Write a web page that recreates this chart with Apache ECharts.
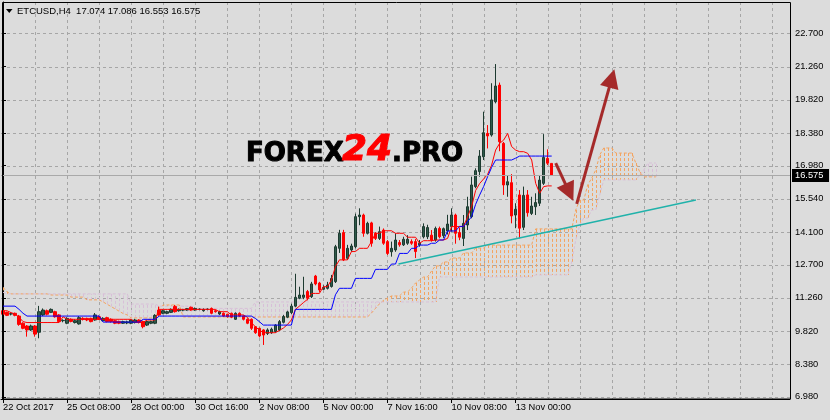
<!DOCTYPE html>
<html><head><meta charset="utf-8">
<script src="https://cdn.jsdelivr.net/npm/echarts@6/dist/echarts.min.js"></script>
<style>html,body{margin:0;padding:0;background:#dcdcdc;}#c{width:830px;height:420px;}</style>
</head><body><div id="c"></div>
<script>
const titleText = 'ETCUSD,H4  17.074 17.086 16.553 16.575';
const opens = [10.70,10.63,10.56,10.59,10.47,10.16,10.04,9.87,10.04,9.77,
 10.52,10.70,10.63,10.66,10.52,10.27,10.16,10.33,10.19,10.13,
 10.37,10.37,10.37,10.30,10.44,10.27,10.40,10.33,10.27,10.24,
 10.16,10.17,10.16,10.19,10.30,10.23,10.08,10.16,10.16,10.73,
 10.59,10.59,10.63,10.88,10.70,10.73,10.73,10.85,10.73,10.76,
 10.70,10.76,10.80,10.70,10.56,10.59,10.55,10.59,10.33,10.59,
 10.47,10.33,10.33,10.01,9.94,9.87,9.72,9.75,9.80,9.87,
 10.20,10.42,10.62,10.90,11.24,11.28,11.53,11.31,12.20,11.90,
 11.63,11.67,11.75,11.96,13.40,14.08,12.97,13.33,13.47,14.77,
 14.84,14.05,14.50,14.05,13.83,14.19,13.69,13.25,13.33,13.65,
 13.55,13.62,13.69,13.69,13.55,13.90,13.90,13.97,13.76,14.26,
 13.95,14.15,14.34,14.84,14.08,13.83,14.41,14.77,16.07,16.72,
 17.36,18.37,18.30,19.74,20.46,17.94,16.14,16.24,14.84,15.71,
 14.31,15.71,14.91,15.20,15.35,16.21,17.29,17.074];
const highs = [10.73,10.66,10.63,10.62,10.52,10.20,10.08,10.10,10.08,10.91,
 10.80,10.75,10.80,10.70,10.55,10.33,10.42,10.37,10.33,10.47,
 10.42,10.40,10.40,10.60,10.50,10.42,10.44,10.37,10.30,10.27,
 10.27,10.27,10.33,10.35,10.33,10.27,10.27,10.27,10.55,10.88,
 10.75,10.70,10.80,10.95,10.80,10.78,10.82,10.88,10.84,10.80,
 10.80,10.80,10.84,10.73,10.70,10.63,10.57,10.62,10.63,10.63,
 10.50,10.37,10.37,10.04,9.97,9.90,9.94,9.97,10.12,10.30,
 10.52,10.70,11.00,12.30,11.74,12.17,11.60,11.95,12.25,11.95,
 11.80,11.95,12.25,13.55,14.20,14.20,13.55,13.60,14.90,15.13,
 14.90,14.55,14.55,14.10,14.34,14.26,13.76,13.69,14.05,13.76,
 13.90,13.97,13.79,13.80,13.76,14.48,14.42,14.19,14.34,14.34,
 14.30,14.85,15.13,14.90,14.30,14.84,15.63,16.50,16.86,17.65,
 19.31,18.73,20.54,21.37,20.57,18.00,16.57,16.61,15.35,15.92,
 16.07,15.92,15.63,15.78,16.57,18.34,17.68,17.086];
const lows = [10.50,10.47,10.50,10.46,10.05,9.90,9.58,9.83,9.58,9.51,
 10.47,10.50,10.60,10.40,10.20,10.20,10.12,10.20,10.15,10.10,
 10.28,10.25,10.20,10.27,10.30,10.24,10.20,10.19,10.12,10.12,
 10.13,10.12,10.12,10.15,10.15,9.94,10.04,10.12,10.12,10.48,
 10.55,10.55,10.60,10.62,10.66,10.68,10.70,10.70,10.70,10.72,
 10.66,10.72,10.55,10.62,10.52,10.44,10.40,10.38,10.30,10.44,
 10.28,10.12,9.87,9.70,9.55,9.22,9.65,9.70,9.75,9.83,
 10.15,10.38,10.55,10.85,11.20,11.20,11.15,11.25,11.80,11.50,
 11.60,11.62,11.70,11.90,13.20,12.85,12.90,13.25,13.40,14.40,
 13.90,14.00,13.47,13.76,13.76,13.55,13.11,13.04,13.25,13.47,
 13.50,13.55,13.55,12.98,13.47,13.83,13.80,13.69,13.69,13.83,
 13.85,14.00,14.12,13.60,13.75,13.50,14.19,14.70,16.00,16.50,
 17.22,17.72,18.23,19.67,17.60,15.71,15.63,14.48,14.27,13.83,
 14.19,14.77,14.84,14.84,15.23,16.14,17.00,16.553];
const closes = [10.55,10.50,10.57,10.50,10.11,9.94,9.87,10.04,9.69,10.66,
 10.73,10.55,10.76,10.44,10.23,10.28,10.37,10.24,10.27,10.40,
 10.33,10.30,10.23,10.52,10.33,10.37,10.23,10.23,10.16,10.16,
 10.23,10.22,10.30,10.30,10.19,10.01,10.23,10.23,10.50,10.52,
 10.70,10.66,10.76,10.66,10.76,10.74,10.79,10.73,10.80,10.77,
 10.76,10.77,10.59,10.66,10.66,10.47,10.44,10.42,10.59,10.47,
 10.33,10.16,9.94,9.75,9.61,9.65,9.87,9.90,10.08,10.23,
 10.45,10.65,10.90,11.28,11.38,11.38,11.24,11.86,11.86,11.60,
 11.71,11.81,12.10,13.47,14.05,12.90,13.40,13.50,14.77,14.84,
 14.05,14.48,13.62,13.83,14.12,13.62,13.18,13.40,13.76,13.55,
 13.79,13.79,13.62,13.26,13.62,14.34,14.30,13.76,14.26,13.90,
 14.25,14.45,14.84,14.05,13.88,14.48,15.20,16.14,16.76,17.39,
 18.40,18.26,19.82,20.42,18.01,16.14,16.28,14.80,15.09,14.27,
 15.69,14.94,15.23,15.38,16.35,17.33,17.08,16.575];
const tenkan = [10.70,10.70,10.62,10.56,10.42,10.23,10.19,10.19,10.19,10.19,
 10.19,10.19,10.19,10.19,10.19,10.44,10.33,10.33,10.33,10.33,
 10.33,10.33,10.33,10.33,10.33,10.33,10.33,10.33,10.33,10.33,
 10.33,10.33,10.33,10.20,10.20,10.20,10.30,10.30,10.30,10.76,
 10.76,10.76,10.76,10.76,10.76,10.76,10.76,10.76,10.76,10.76,
 10.76,10.76,10.76,10.76,10.66,10.66,10.66,10.52,10.52,10.52,
 10.52,10.42,10.19,10.01,9.87,9.75,9.75,9.75,9.75,9.85,
 9.95,10.10,10.30,10.76,10.90,11.05,11.19,11.45,11.45,11.45,
 11.74,11.74,12.03,12.61,12.90,12.90,12.90,13.26,13.26,13.40,
 13.40,13.40,13.69,14.05,14.05,14.16,14.16,14.16,14.05,14.05,
 14.05,13.88,13.88,13.88,13.62,13.73,13.73,13.73,13.76,13.76,
 13.76,13.83,14.34,14.34,14.34,14.34,14.77,15.20,15.90,16.20,
 16.40,16.60,17.00,17.65,17.94,18.08,18.37,17.80,17.65,17.58,
 17.58,17.51,17.22,16.21,15.78,16.07,16.10,16.10];
const kijun = [10.90,10.90,10.90,10.90,10.76,10.59,10.47,10.47,10.47,10.47,
 10.47,10.47,10.47,10.47,10.47,10.47,10.47,10.47,10.47,10.47,
 10.47,10.47,10.47,10.47,10.47,10.21,10.21,10.21,10.21,10.21,
 10.21,10.21,10.21,10.21,10.21,10.33,10.33,10.33,10.33,10.47,
 10.47,10.47,10.47,10.47,10.47,10.47,10.47,10.47,10.47,10.47,
 10.47,10.47,10.47,10.47,10.47,10.47,10.47,10.47,10.47,10.47,
 10.47,10.47,10.47,10.37,10.23,10.08,10.08,10.08,10.08,10.08,
 10.08,10.08,10.08,10.76,10.76,10.76,10.76,10.76,10.76,10.76,
 10.76,10.76,10.76,11.39,11.67,11.67,11.67,11.67,12.10,12.10,
 12.10,12.10,12.10,12.49,12.49,12.49,12.49,12.72,12.72,13.18,
 13.18,13.18,13.40,13.40,13.54,13.54,13.54,13.62,13.62,13.76,
 13.76,14.15,14.15,14.15,14.35,14.35,14.55,14.77,15.30,15.70,
 16.07,16.50,16.90,17.22,17.22,17.22,17.22,17.22,17.30,17.39,
 17.39,17.39,17.39,17.39,17.39,17.39,17.39,17.39];
const senkouA = [11.71,11.52,11.43,11.43,11.43,11.43,11.43,11.43,11.43,11.43,
 11.43,11.43,11.38,11.38,11.38,11.38,11.38,11.29,11.29,11.29,
 11.29,11.17,11.17,11.17,11.17,11.08,10.98,10.88,10.78,10.68,
 10.58,10.52,10.39,10.39,10.39,10.39,10.39,10.39,10.39,10.82,
 10.95,10.95,10.95,10.95,10.95,10.43,10.43,10.43,10.43,10.43,
 10.43,10.43,10.43,10.43,10.43,10.43,10.43,10.43,10.43,10.43,
 10.43,10.43,10.43,10.43,10.43,10.43,10.43,10.43,10.43,10.43,
 10.43,10.43,10.43,10.43,10.43,10.43,10.43,10.43,10.43,10.43,
 10.43,10.43,10.43,10.43,10.43,10.43,10.43,10.43,10.43,10.43,
 10.43,10.43,10.60,10.80,11.00,11.15,11.25,11.34,11.34,11.34,
 11.51,11.51,11.68,11.90,12.03,12.16,12.16,12.42,12.64,12.64,
 12.81,12.81,12.98,12.98,12.98,13.20,13.20,13.20,13.41,13.41,
 13.41,13.54,13.54,13.54,13.54,13.54,13.54,13.54,13.54,13.54,
 13.54,13.54,13.54,14.24,14.24,14.24,14.24,14.24,14.24,14.24,
 14.24,14.24,14.24,15.06,15.49,15.49,16.14,16.44,16.79,17.44,
 17.74,17.74,17.74,17.52,17.52,17.52,17.52,17.52,17.09,16.70,
 16.49,16.49,16.49,16.49];
const senkouB = [11.50,11.43,11.43,11.43,11.43,11.43,11.43,11.43,11.43,11.43,
 11.43,11.43,11.43,11.43,11.43,11.43,11.43,11.43,11.43,11.43,
 11.43,11.43,11.43,11.43,11.43,11.43,11.43,11.43,11.43,11.43,
 11.43,11.43,10.99,10.99,10.99,10.99,10.99,10.99,10.99,10.90,
 10.90,10.90,10.90,10.90,10.90,10.90,10.90,10.90,10.80,10.80,
 10.80,10.80,10.80,10.80,10.80,10.80,10.80,10.80,10.80,10.80,
 10.80,10.80,10.80,11.08,11.08,11.08,11.08,11.08,11.08,11.08,
 11.08,11.08,11.08,11.08,11.08,11.08,11.08,11.08,11.08,11.08,
 11.08,11.08,11.08,11.08,11.08,11.08,11.08,11.08,11.08,11.08,
 11.08,11.08,11.08,11.08,11.08,11.08,11.08,11.08,11.08,11.08,
 11.08,11.08,11.08,11.08,11.08,11.08,11.08,11.08,11.08,12.16,
 12.16,12.16,12.16,12.16,12.16,12.16,12.16,12.16,12.16,12.16,
 12.16,12.16,12.16,12.16,12.16,12.16,12.16,12.16,12.16,12.16,
 12.16,12.16,12.16,12.25,12.25,12.25,12.25,12.25,12.25,12.25,
 12.25,12.25,12.81,13.76,14.41,14.71,14.71,15.06,15.06,15.71,
 16.36,16.36,16.36,16.36,16.36,16.36,16.36,16.36,16.36,16.57,
 16.79,17.09,17.09,17.09];
const xTickLabels = ['22 Oct 2017','25 Oct 08:00','28 Oct 00:00','30 Oct 16:00','2 Nov 08:00','5 Nov 00:00','7 Nov 16:00','10 Nov 08:00','13 Nov 00:00'];
const barsPerLabel = 16;
const barsPerGridLine = 8;
const slotCount = 197;
const yTicks = [6.98, 8.38, 9.82, 11.26, 12.70, 14.10, 15.54, 16.98, 18.38, 19.82, 21.26, 22.70];
const trendLine = [[98.75, 12.72], [173, 15.49]];
const arrowDown = [[138, 17.09], [141.4, 15.82]];
const arrowUp = [[143.25, 15.32], [152.0, 20.75]];

const cats = [];
for (let i = 0; i < slotCount; i++) cats.push(String(i));
const ohlc = opens.map((o, i) => [o, closes[i], lows[i], highs[i]]);
const lastClose = closes[closes.length - 1];
const gridCols = [];
for (let i = barsPerGridLine; i < slotCount; i += barsPerGridLine) gridCols.push([i, 0]);
const showLabel = (idx) => idx % barsPerLabel === 0 && idx / barsPerLabel < xTickLabels.length;
const FONT = 'Liberation Sans';
const GRID_COLOR = '#a6a6a6';

const chart = echarts.init(document.getElementById('c'), null, {renderer: 'canvas'});
const option = {
  backgroundColor: '#dcdcdc',
  animation: false,
  grid: {left: 1, right: 40, top: 2, bottom: 21, show: false},
  xAxis: [{
    type: 'category', data: cats, boundaryGap: true,
    axisLine: {show: true, lineStyle: {color: '#000', width: 1}},
    axisTick: {show: true, alignWithLabel: true, length: 4, interval: showLabel, lineStyle: {color: '#000'}},
    axisLabel: {show: true, interval: showLabel, align: 'left', margin: 4, color: '#000', fontFamily: FONT, fontSize: 9.3,
      formatter: (v, idx) => xTickLabels[idx / barsPerLabel]},
    splitLine: {show: false}
  }, {
    type: 'value', min: -0.5, max: slotCount - 0.5, show: false
  }],
  yAxis: [{
    type: 'value', position: 'right', min: 6.883, max: 24.054, scale: true,
    axisLine: {show: true, lineStyle: {color: '#000', width: 1}},
    axisTick: {show: true, length: 3, customValues: yTicks, lineStyle: {color: '#000'}},
    axisLabel: {show: true, customValues: yTicks, margin: 5, color: '#000', fontFamily: FONT, fontSize: 9.3,
      formatter: v => v.toFixed(3)},
    splitLine: {show: false}
  }],
  series: [
    {type: 'custom', name: 'hgrid', xAxisIndex: 1, yAxisIndex: 0, z: 0, silent: true,
      data: yTicks.map(v => [0, v]), encode: {x: 0, y: 1},
      renderItem: (params, api) => {
        const cs = params.coordSys;
        const y = Math.round(api.coord([0, api.value(1)])[1]) + 0.5;
        return {type: 'line', shape: {x1: cs.x, y1: y, x2: cs.x + cs.width, y2: y},
          style: {stroke: GRID_COLOR, lineWidth: 1, lineDash: [3, 3]}};
      }},
    {type: 'custom', name: 'vgrid', xAxisIndex: 1, yAxisIndex: 0, z: 0, silent: true,
      data: gridCols, encode: {x: 0, y: 1},
      renderItem: (params, api) => {
        const cs = params.coordSys;
        const x = Math.round(api.coord([api.value(0), 10])[0]) + 0.5;
        return {type: 'line', shape: {x1: x, y1: cs.y, x2: x, y2: cs.y + cs.height},
          style: {stroke: GRID_COLOR, lineWidth: 1, lineDash: [3, 3]}};
      }},
    {type: 'custom', name: 'cloud', xAxisIndex: 1, yAxisIndex: 0, z: 1, silent: true,
      data: senkouA.map((a, i) => [i, a, senkouB[i]]), encode: {x: 0, y: [1, 2]},
      renderItem: (params, api) => {
        const i = api.value(0), a = api.value(1), b = api.value(2);
        const p1 = api.coord([i, a]), p2 = api.coord([i, b]);
        const x = Math.round(p1[0]) + 0.5;
        return {type: 'line', shape: {x1: x, y1: p1[1], x2: x, y2: p2[1]},
          style: {stroke: a >= b ? '#f4a460' : '#d8bfd8', lineWidth: 1, lineDash: [3, 2]}};
      }},
    {type: 'line', name: 'SenkouA', data: senkouA, showSymbol: false, z: 2, silent: true,
      lineStyle: {color: '#f4a460', width: 1, type: [3, 2]}},
    {type: 'line', name: 'SenkouB', data: senkouB, showSymbol: false, z: 2, silent: true,
      lineStyle: {color: '#d8bfd8', width: 1, type: [3, 2]}},
    {type: 'candlestick', name: 'ETCUSD', data: ohlc, barWidth: 3, z: 3,
      itemStyle: {color: '#2f5a4a', color0: '#ff0000', borderColor: '#1d3a30', borderColor0: '#ff0000', borderWidth: 1},
      markLine: {silent: true, symbol: ['none', 'none'], label: {show: false},
        lineStyle: {color: '#a9a9a9', type: 'solid', width: 1},
        data: [{yAxis: lastClose}]}},
    {type: 'line', name: 'Tenkan', data: tenkan, showSymbol: false, z: 4, silent: true,
      lineStyle: {color: '#ff0000', width: 1}},
    {type: 'line', name: 'Kijun', data: kijun, showSymbol: false, z: 4, silent: true,
      lineStyle: {color: '#0000ff', width: 1}},
    {type: 'line', name: 'trend', xAxisIndex: 1, data: trendLine, showSymbol: false, z: 5, silent: true,
      lineStyle: {color: '#20b2aa', width: 1.5}},
    {type: 'lines', name: 'arrows', coordinateSystem: 'cartesian2d', xAxisIndex: 1, yAxisIndex: 0, z: 6, silent: true,
      symbol: ['none', 'triangle'], symbolSize: 19,
      lineStyle: {color: '#a52a2a', width: 3, opacity: 1, curveness: 0},
      data: [{coords: arrowDown}, {coords: arrowUp}]}
  ]
};
chart.setOption(option);

const py = chart.convertToPixel({yAxisIndex: 0}, lastClose);
chart.setOption({graphic: [
  {type: 'rect', silent: true, z: 10, shape: {x: 2.5, y: 2.5, width: 788, height: 396.5},
    style: {fill: 'none', stroke: '#000', lineWidth: 1}},
  {type: 'polygon', silent: true, z: 10, shape: {points: [[6, 9], [12.5, 9], [9.25, 13]]}, style: {fill: '#000'}},
  {type: 'text', silent: true, z: 10, x: 17, y: 11, style: {text: titleText, fill: '#000', font: '9.5px "Liberation Sans"', verticalAlign: 'middle'}},
  {type: 'text', silent: true, z: 10, x: 246, y: 154, style: {text: 'FOREX', fill: '#000', font: 'bold 26px "DejaVu Sans"', verticalAlign: 'middle', stroke: '#000', lineWidth: 1}},
  {type: 'text', silent: true, z: 10, x: 342, y: 150.5, style: {text: '24', fill: '#ff0000', font: 'italic bold 36px "DejaVu Sans"', verticalAlign: 'middle', stroke: '#ff0000', lineWidth: 1}},
  {type: 'text', silent: true, z: 10, x: 392, y: 154, style: {text: '.PRO', fill: '#000', font: 'bold 26px "DejaVu Sans"', verticalAlign: 'middle', stroke: '#000', lineWidth: 1}},
  {type: 'rect', silent: true, z: 10, shape: {x: 792, y: Math.round(py) - 6, width: 37, height: 13}, style: {fill: '#000'}},
  {type: 'text', silent: true, z: 11, x: 795, y: Math.round(py) + 0.5, style: {text: lastClose.toFixed(3), fill: '#fff', font: '9.3px "Liberation Sans"', verticalAlign: 'middle'}}
]});
</script>
</body></html>
